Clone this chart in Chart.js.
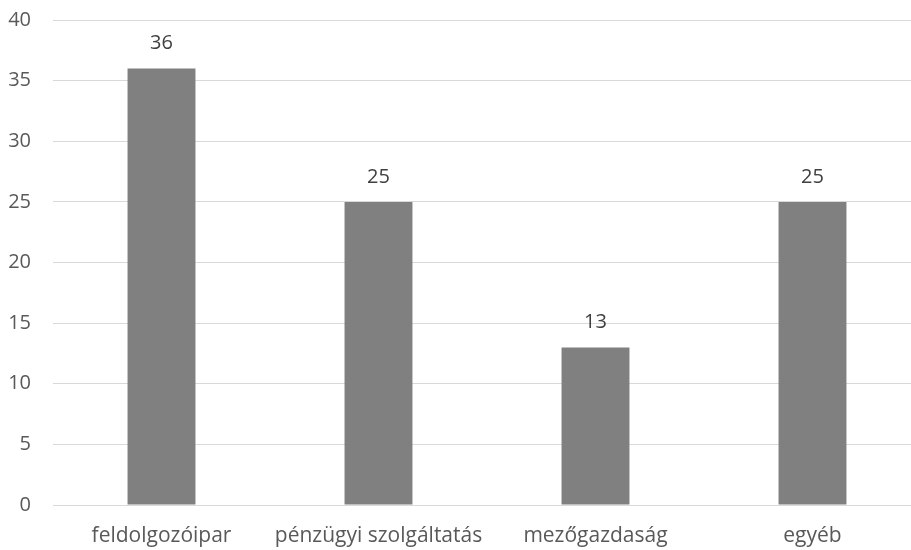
<!DOCTYPE html>
<html>
<head>
<meta charset="utf-8">
<script src="https://cdn.jsdelivr.net/npm/chart.js@4"></script>
<style>
  html, body { margin: 0; padding: 0; background: #fff; overflow: hidden; }
  #wrap { width: 921px; height: 550px; }
</style>
</head>
<body>
<div id="wrap"><canvas id="grafikon"></canvas></div>
<script>
// ágazatok és darabszámok
const agazatok = ['feldolgozóipar', 'pénzügyi szolgáltatás', 'mezőgazdaság', 'egyéb'];
const ertekek = [36, 25, 13, 25];
const yTickek = [0, 5, 10, 15, 20, 25, 30, 35, 40];

const betu = "'Open Sans', sans-serif";
const szurke = '#595959';

// értékcímkék a oszlopok fölé
const ertekCimkek = {
    id: 'ertekCimkek',
    afterDatasetsDraw(chart) {
        const ctx = chart.ctx;
        const meta = chart.getDatasetMeta(0);
        ctx.save();
        ctx.font = '20px ' + betu;
        ctx.fillStyle = '#404040';
        ctx.textAlign = 'center';
        ctx.textBaseline = 'middle';
        meta.data.forEach(function (bar, i) {
            ctx.fillText(String(ertekek[i]), bar.x, bar.y - 25);
        });
        ctx.restore();
    }
};

window.onload = function () {
    var ctx = document.getElementById('grafikon').getContext('2d');
    new Chart(ctx, {
        type: 'bar',
        data: {
            labels: agazatok,
            datasets: [{
                data: ertekek,
                backgroundColor: '#808080',
                borderWidth: 0,
                barPercentage: 1,
                categoryPercentage: 0.313
            }]
        },
        options: {
            responsive: true,
            maintainAspectRatio: false,
            animation: false,
            layout: { padding: { top: 20, right: 0, left: 0, bottom: 0 } },
            plugins: {
                legend: { display: false },
                tooltip: { enabled: false }
            },
            scales: {
                x: {
                    grid: { display: false, drawTicks: false },
                    border: { color: '#d9d9d9', width: 1 },
                    ticks: {
                        color: szurke,
                        font: { family: betu, size: 21 },
                        padding: 18,
                        maxRotation: 0,
                        autoSkip: false
                    },
                    afterFit(scale) { scale.height = 45; }
                },
                y: {
                    min: 0,
                    max: 40,
                    afterBuildTicks(scale) {
                        scale.ticks = yTickek.map(v => ({ value: v }));
                    },
                    grid: { color: '#d9d9d9', lineWidth: 1, drawTicks: false },
                    border: { display: false },
                    ticks: {
                        color: szurke,
                        font: { family: betu, size: 20 },
                        padding: 22
                    },
                    afterFit(scale) {
                        scale.width = 53;
                        scale.paddingTop = 0;
                        scale.paddingBottom = 0;
                    }
                }
            }
        },
        plugins: [ertekCimkek]
    });
};
</script>
</body>
</html>
